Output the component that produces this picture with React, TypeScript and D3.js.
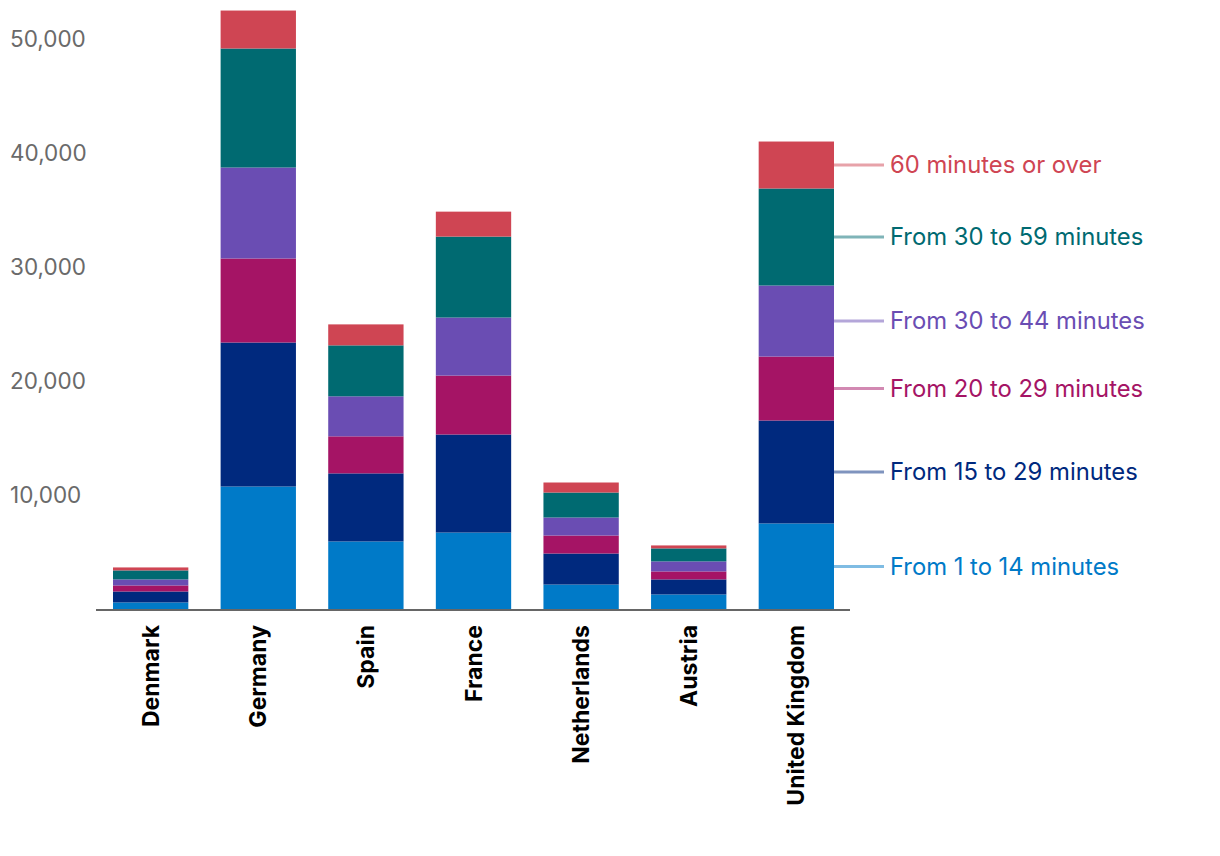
import React from "react";
import * as d3 from "d3";

const countries = ["Denmark", "Germany", "Spain", "France", "Netherlands", "Austria", "United Kingdom"];
const seriesNames = [
  "From 1 to 14 minutes",
  "From 15 to 29 minutes",
  "From 20 to 29 minutes",
  "From 30 to 44 minutes",
  "From 30 to 59 minutes",
  "60 minutes or over",
];
const seriesColors = ["#007ac8", "#00297e", "#a51465", "#6a4db3", "#006a71", "#cf4553"];

const min1to14 = [620, 10790, 5970, 6750, 2190, 1320, 7550];
const min15to29 = [960, 12630, 5970, 8600, 2720, 1320, 9030];
const min20to29 = [530, 7370, 3250, 5170, 1580, 700, 5610];
const min30to44 = [530, 7980, 3510, 5090, 1580, 880, 6230];
const min30to59 = [790, 10440, 4470, 7100, 2190, 1140, 8510];
const min60over = [260, 3330, 1840, 2190, 880, 260, 4120];

const yTicks = [10000, 20000, 30000, 40000, 50000];

const seriesValues = [min1to14, min15to29, min20to29, min30to44, min30to59, min60over];

export default function App() {
  const W = 1220, H = 856;
  const x0 = 96, x1 = 850;
  const y = d3.scaleLinear().domain([0, 50000]).range([609.5, 39.5]);
  const x = d3.scaleBand().domain(countries).range([113, 834]).paddingInner(0.3).paddingOuter(0);

  const rows = countries.map((c, i) => {
    const r: any = { country: c };
    seriesNames.forEach((s, k) => (r[s] = seriesValues[k][i]));
    return r;
  });
  const stacked = d3.stack().keys(seriesNames)(rows);
  const lastIdx = countries.length - 1;
  const fmt = d3.format(",");

  return (
    <svg width={W} height={H} style={{ position: "absolute", left: 0, top: 0, fontFamily: "Inter, 'Open Sans', sans-serif" }}>
      {stacked.map((layer, k) => (
        <g key={k} fill={seriesColors[k]}>
          {layer.map((d, i) => (
            <rect
              key={i}
              x={x(countries[i])}
              width={x.bandwidth()}
              y={y(d[1])}
              height={y(d[0]) - y(d[1])}
            />
          ))}
        </g>
      ))}
      <line x1={x0} x2={x1} y1={610} y2={610} stroke="#666" strokeWidth={2} />
      {yTicks.map((t) => (
        <text key={t} x={10} y={y(t)} dy="0.35em" fontSize={22.5} fill="#6a6a6a">
          {fmt(t)}
        </text>
      ))}
      {countries.map((c) => (
        <text
          key={c}
          transform={`translate(${(x(c) as number) + x.bandwidth() / 2},625) rotate(-90)`}
          textAnchor="end"
          dy="0.35em"
          fontSize={23}
          fontWeight="bold"
          fill="#000"
        >
          {c}
        </text>
      ))}
      {stacked.map((layer, k) => {
        const d = layer[lastIdx];
        const ym = (y(d[0]) + y(d[1])) / 2;
        const xe = (x(countries[lastIdx]) as number) + x.bandwidth();
        return (
          <g key={k}>
            <line x1={xe} x2={xe + 50} y1={ym} y2={ym} stroke={seriesColors[k]} strokeOpacity={0.5} strokeWidth={3} />
            <text x={xe + 56} y={ym} dy="0.35em" fontSize={23.8} fill={seriesColors[k]}>
              {seriesNames[k]}
            </text>
          </g>
        );
      })}
    </svg>
  );
}
